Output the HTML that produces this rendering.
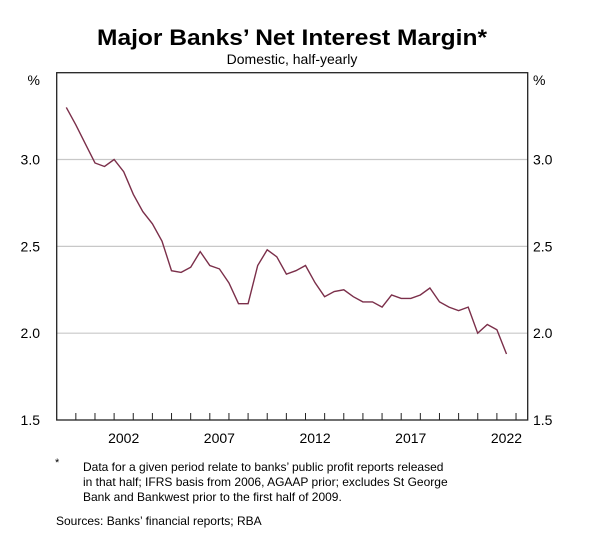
<!DOCTYPE html>
<html><head><meta charset="utf-8"><style>
body{margin:0;background:#fff;width:600px;height:537px;overflow:hidden;font-family:"Liberation Sans",sans-serif;}
</style></head><body>
<svg width="600" height="537" viewBox="0 0 600 537" font-family="Liberation Sans, sans-serif">
<text x="292" y="45" text-anchor="middle" font-size="22" font-weight="bold" textLength="390" lengthAdjust="spacingAndGlyphs">Major Banks’ Net Interest Margin*</text>
<text x="292" y="64" text-anchor="middle" font-size="14">Domestic, half-yearly</text>
<g id="grid"></g>
<rect x="56.7" y="72.7" width="471" height="347.3" fill="none" stroke="#222" stroke-width="1.3"/>
<g id="xticks"></g>
<g id="yticks"></g>
<text x="40" y="85" text-anchor="end" font-size="14">%</text>
<text x="533" y="85" font-size="14">%</text>
<path id="line" fill="none" stroke="#7b2f4a" stroke-width="1.4"/>
<text x="55" y="466" font-size="11">*</text>
<g font-size="12">
<text x="83" y="471">Data for a given period relate to banks’ public profit reports released</text>
<text x="83" y="486">in that half; IFRS basis from 2006, AGAAP prior; excludes St George</text>
<text x="83" y="501">Bank and Bankwest prior to the first half of 2009.</text>
</g>
<text x="56" y="525" font-size="12">Sources: Banks’ financial reports; RBA</text>
</svg>
<script>
const startYear = 1999.5;
const values = [3.30,3.20,3.09,2.98,2.96,3.00,2.93,2.80,2.70,2.63,2.53,2.36,2.35,2.38,2.47,2.39,2.37,2.29,2.17,2.17,2.39,2.48,2.44,2.34,2.36,2.39,2.29,2.21,2.24,2.25,2.21,2.18,2.18,2.15,2.22,2.20,2.20,2.22,2.26,2.18,2.15,2.13,2.15,2.00,2.05,2.02,1.88];
const yTicks = [1.5,2.0,2.5,3.0];
const xLabels = [2002,2007,2012,2017,2022];
const ns="http://www.w3.org/2000/svg";
const X0=56.7, X1=527.7, YT=72.7, YB=420;
const xDom=[1999,2023.61], yDom=[1.5,3.5];
function xs(v){return X0+(v-xDom[0])/(xDom[1]-xDom[0])*(X1-X0);}
function ys(v){return YB-(v-yDom[0])/(yDom[1]-yDom[0])*(YB-YT);}
function mk(t,a,p){const e=document.createElementNS(ns,t);for(const k in a)e.setAttribute(k,a[k]);p.appendChild(e);return e;}
const grid=document.getElementById('grid'), yt=document.getElementById('yticks'), xt=document.getElementById('xticks');
yTicks.forEach(v=>{
  if(v>yDom[0]){const g=mk('line',{x1:X0,x2:X1,y1:ys(v),y2:ys(v),stroke:'#c8c8c8','stroke-width':1.2},grid);
  
  }
  const l=mk('text',{x:40,y:ys(v)+5,'text-anchor':'end','font-size':14},yt);l.textContent=v.toFixed(1);
  
  
  const r=mk('text',{x:533,y:ys(v)+5,'font-size':14},yt);r.textContent=v.toFixed(1);
  
  
});
for(let y=2000;y<=2023;y++){
  const t=mk('line',{x1:xs(y),x2:xs(y),y1:YB,y2:YB-7,stroke:'#222','stroke-width':1},xt);
  
  
}
xLabels.forEach(y=>{
  const l=mk('text',{x:xs(y+0.5),y:443,'text-anchor':'middle','font-size':14},xt);l.textContent=y;
  
  
});
document.getElementById('line').setAttribute('d',values.map((v,i)=>(i?'L':'M')+xs(startYear+i*0.5).toFixed(1)+','+ys(v).toFixed(1)).join(''));
</script>
</body></html>
